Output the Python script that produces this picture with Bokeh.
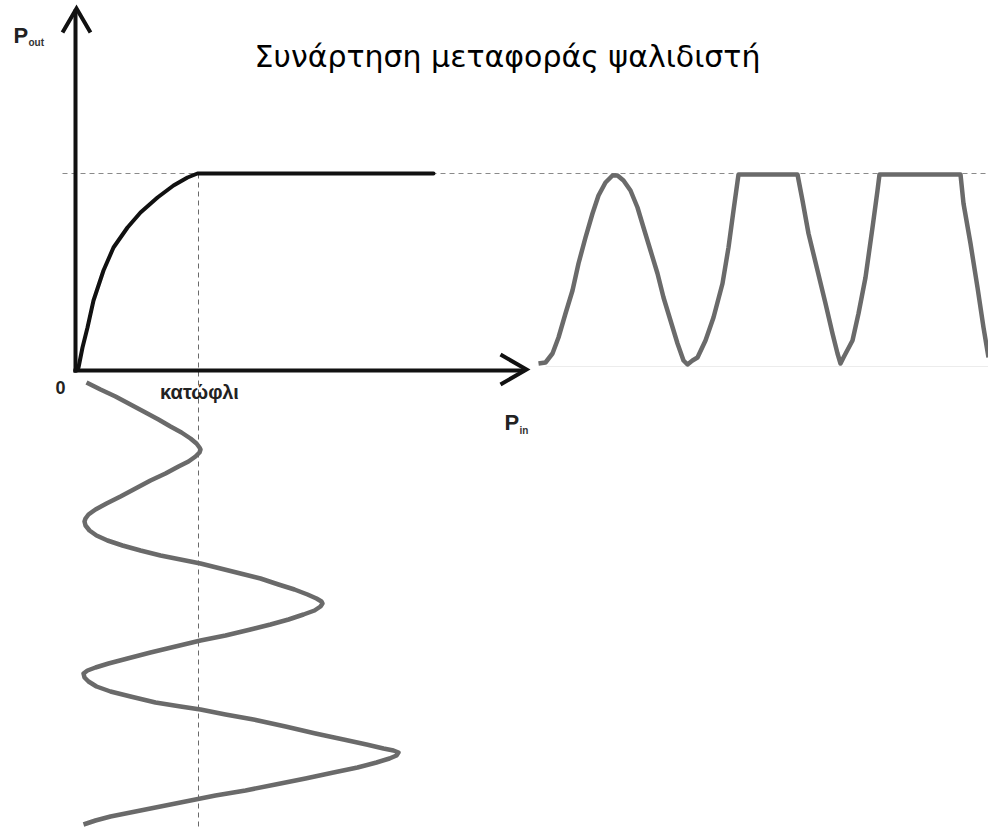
from bokeh.plotting import figure
from bokeh.models import Range1d
from bokeh.core.properties import value
from bokeh.embed import file_html
from bokeh.resources import INLINE

# ---- data (reference pixel coordinates of the diagram) ----
# transfer curve (input power -> output power), saturating at threshold
curve_x = [75, 78, 82, 87, 93, 103, 113, 127, 140, 157, 173, 187, 197, 433]
curve_y = [370, 367, 347, 327, 300, 270, 247, 227, 212, 197, 185, 177, 173, 173]

# input signal (drawn vertically, time going down)
in_x = [86, 100, 115, 130, 145, 158, 170, 181, 190, 196, 199, 200,
        199, 195, 188, 178, 165, 150, 135, 120, 106, 95, 88, 85, 84,
        85, 89, 96, 107, 122, 140, 160, 180, 200, 220, 240, 260, 278, 294, 307, 316, 321, 322,
        320, 314, 303, 288, 270, 250, 225, 200, 175, 150, 127, 108, 95, 87, 83,
        84, 88, 96, 110, 130, 155, 180, 200, 225, 253, 285, 315, 343, 366, 383, 393, 398,
        396, 389, 376, 357, 333, 305, 275, 245, 215, 185, 155, 130, 110, 95, 83]
in_y = [382, 389, 396, 404, 412, 419, 426, 432, 438, 443, 447, 449,
        452, 456, 461, 466, 473, 480, 488, 496, 503, 509, 514, 518, 521,
        525, 530, 535, 540, 545, 550, 555, 559, 563, 568, 573, 578, 584, 589, 594, 598, 601, 603,
        606, 610, 614, 619, 624, 629, 635, 640, 646, 652, 658, 663, 667, 670, 673,
        677, 681, 686, 691, 696, 702, 706, 709, 714, 719, 726, 733, 739, 744, 748, 750, 752,
        755, 758, 762, 767, 772, 778, 784, 790, 795, 801, 807, 812, 816, 820, 824]

# output signal (clipped at threshold level)
out_x = [538, 545, 552, 558, 565, 572, 578, 585, 592, 598, 605, 612, 617, 623, 630,
         637, 643, 650, 657, 663, 670, 677, 683, 687, 692, 697, 705, 713, 722, 728,
         733, 738, 797, 802, 808, 817, 825, 832, 837, 840, 843, 852, 858, 865, 872,
         877, 879, 960, 963, 970, 977, 983, 988]
out_y = [363, 362, 353, 337, 313, 290, 263, 237, 213, 195, 182, 175, 175, 180, 190,
         207, 227, 250, 273, 297, 320, 343, 360, 364, 360, 357, 340, 317, 283, 247,
         210, 174, 174, 200, 233, 270, 303, 333, 353, 363, 357, 340, 313, 277, 227,
         190, 174, 174, 203, 243, 287, 327, 357]

# axes and reference lines
axis_v_x = [75, 75]
axis_v_y = [372, 9]
axis_h_x = [73, 524]
axis_h_y = [370, 370]
arrow_v_x = [62, 76, 90]
arrow_v_y = [32, 8, 32]
arrow_h_x = [500, 526, 500]
arrow_h_y = [354, 369, 384]
thr_level_x = [62, 988]
thr_level_y = [173, 173]
thr_in_x = [198, 198]
thr_in_y = [173, 830]
base_x = [545, 988]
base_y = [366, 366]

title_text = "Συνάρτηση μεταφοράς ψαλιδιστή"
threshold_label = "κατώφλι"
origin_label = "0"

p = figure(width=988, height=830, output_backend="svg", toolbar_location=None,
           x_range=Range1d(0, 988), y_range=Range1d(830, 0),
           x_axis_type=None, y_axis_type=None, min_border=0,
           outline_line_color=None, background_fill_color="white",
           border_fill_color="white")
p.xgrid.visible = False
p.ygrid.visible = False

# dashed guide lines
p.line(thr_level_x, thr_level_y, line_color="#8a8a8a", line_width=1, line_dash="5 4")
p.line(thr_in_x, thr_in_y, line_color="#6a6a6a", line_width=1, line_dash="5 4")
p.line(base_x, base_y, line_color="#ececec", line_width=1)

# axes
p.line(axis_v_x, axis_v_y, line_color="#111111", line_width=4)
p.line(axis_h_x, axis_h_y, line_color="#111111", line_width=4)
p.line(arrow_v_x, arrow_v_y, line_color="#111111", line_width=4, line_join="miter")
p.line(arrow_h_x, arrow_h_y, line_color="#111111", line_width=4, line_join="miter")

# transfer curve
p.line(curve_x, curve_y, line_color="#111111", line_width=4, line_join="round", line_cap="round")

# waveforms
p.line(in_x, in_y, line_color="#6a6a6a", line_width=4.5, line_join="round")
p.line(out_x, out_y, line_color="#6a6a6a", line_width=4.5, line_join="round")

# texts
p.text(x=[507], y=[56], text=[title_text], text_font=value("DejaVu Sans"),
       text_font_size="30px", text_color="#000000", text_align="center",
       text_baseline="alphabetic")
p.text(x=[13], y=[35], text=["P"], text_font=value("Liberation Sans"),
       text_font_size="22px", text_font_style="bold", text_color="#222222",
       text_baseline="alphabetic")
p.text(x=[28], y=[42], text=["out"], text_font=value("Liberation Sans"),
       text_font_size="10px", text_font_style="bold", text_color="#333333",
       text_baseline="alphabetic")
p.text(x=[504], y=[422], text=["P"], text_font=value("Liberation Sans"),
       text_font_size="22px", text_font_style="bold", text_color="#222222",
       text_baseline="alphabetic")
p.text(x=[519], y=[430], text=["in"], text_font=value("Liberation Sans"),
       text_font_size="10px", text_font_style="bold", text_color="#333333",
       text_baseline="alphabetic")
p.text(x=[60], y=[387], text=[origin_label], text_font=value("Liberation Sans"),
       text_font_size="18px", text_font_style="bold", text_color="#222222",
       text_align="center", text_baseline="middle")
p.text(x=[199], y=[391], text=[threshold_label], text_font=value("Liberation Sans"),
       text_font_size="20px", text_font_style="bold", text_color="#222222",
       text_align="center", text_baseline="middle")

open("out.html", "w").write(file_html(p, INLINE))
